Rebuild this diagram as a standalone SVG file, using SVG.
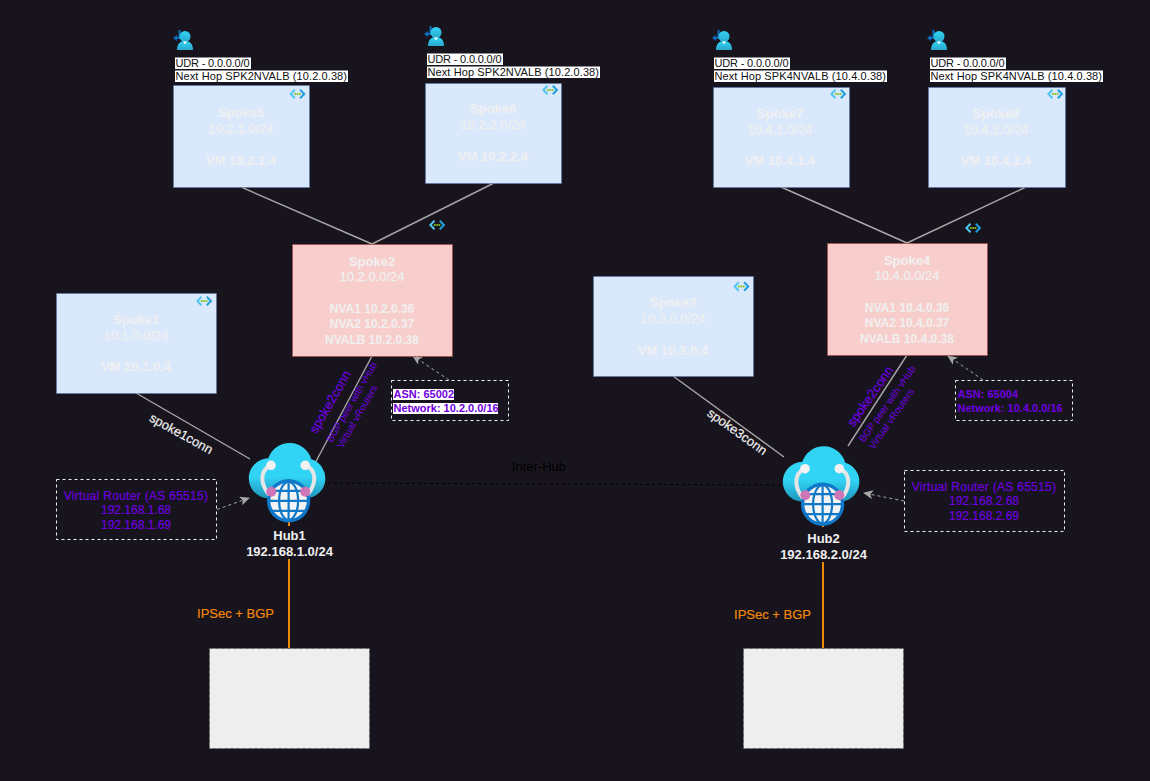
<svg xmlns="http://www.w3.org/2000/svg" width="1150" height="781" viewBox="0 0 1150 781">
<style>
text{font-family:"Liberation Sans",Arial,sans-serif;}
.nt{font-size:13px;font-weight:700;fill:#f0f0f0;text-anchor:middle;}
.ns{font-size:12px;font-weight:700;fill:#f0f0f0;text-anchor:middle;}
.nr{font-size:13px;font-weight:400;fill:#f0f0f0;stroke:#f0f0f0;stroke-width:.25px;text-anchor:middle;}
.blue{fill:#dae8fc;stroke:#5f7ba6;stroke-width:1;stroke-dasharray:3 1;}
.red{fill:#f8cecc;stroke:#a84c49;stroke-width:1;stroke-dasharray:3 1;}
.gray{fill:#eeeeee;stroke:#666666;stroke-width:1;stroke-dasharray:3 3;}
.conn{stroke:#a8a6a6;stroke-width:1.4;fill:none;}
.orange{stroke:#f08705;stroke-width:2;fill:none;}
.dash{stroke:#a8a8a8;stroke-width:1;stroke-dasharray:3 3;fill:none;}
.box{fill:none;stroke:#f0f0f0;stroke-width:1;stroke-dasharray:3 3;}
.pur{fill:#7000e0;font-size:12px;font-weight:400;text-anchor:middle;stroke:#7000e0;stroke-width:.15px;}
.vr{letter-spacing:.3px;}
.purb{fill:#7000e0;font-size:11px;font-weight:700;}
.udr{font-size:11px;fill:#111;}
.hl{fill:#ffffff;}
.lab{font-size:13px;text-anchor:middle;stroke-width:.2px;}
.bgp{font-size:10px;fill:#7000e0;}
.ip{font-size:13px;fill:#f08705;stroke:#f08705;stroke-width:.2px;text-anchor:middle;}
</style>
<defs>
<marker id="ah" markerWidth="11" markerHeight="10" refX="9" refY="4.500" orient="auto" markerUnits="userSpaceOnUse"><path d="M0,0 L10,4.500 L0,9 L2.500,4.500 Z" fill="#a8a8a8"/></marker>
<linearGradient id="cl" gradientUnits="userSpaceOnUse" x1="0" y1="0" x2="0" y2="55"><stop offset="0" stop-color="#32d4f5"/><stop offset="0.6" stop-color="#32d4f5"/><stop offset="1" stop-color="#1f94bb"/></linearGradient>
<linearGradient id="pg" x1="0" y1="0" x2="0" y2="1"><stop offset="0" stop-color="#32d4f5"/><stop offset="1" stop-color="#2aa8cc"/></linearGradient>
<g id="vnet">
<path d="M4.800,0 L0,5 L4.800,10 L6.200,8.600 L2.800,5 L6.200,1.400 Z" fill="#50c7f2"/>
<path d="M11.500,0 L16.300,5 L11.500,10 L10.100,8.600 L13.500,5 L10.100,1.400 Z" fill="#1f9fe0"/>
<circle cx="5.800" cy="5" r="1.100" fill="#86c226"/><circle cx="8.150" cy="5" r="1.100" fill="#86c226"/><circle cx="10.500" cy="5" r="1.100" fill="#86c226"/>
</g>
<g id="user">
<path d="M5.500,0 V8 H1" fill="none" stroke="#0f6cbd" stroke-width="2"/><path d="M-1,8 L3,5 V11 Z" fill="#0f6cbd"/>
<circle cx="11" cy="6.500" r="5.500" fill="url(#pg)"/>
<path d="M3,20 C3,14 6,11 11,11 C16,11 19,14 19,20 Z" fill="url(#pg)"/>
<path d="M9,11.500 L11,14.500 L13,11.500 Z" fill="#ffffff"/>
</g>
<g id="hubicon">
<path d="M20,55 A20,20 0 0 1 19,15 A22.500,22.500 0 0 1 62,16 A20,20 0 0 1 58,55 Z" fill="url(#cl)"/>
<path d="M21.700,22 C12,26 9,38 20,52" fill="none" stroke="#e6e6e6" stroke-width="4"/>
<path d="M56,22 C66,26 69,38 58,52" fill="none" stroke="#e6e6e6" stroke-width="4"/>
<circle cx="21.700" cy="22" r="4.800" fill="#f2f2f2"/><circle cx="56" cy="22" r="4.800" fill="#f2f2f2"/>
<circle cx="39.300" cy="57.500" r="21.700" fill="#0f78c8"/>
<circle cx="39.300" cy="57.500" r="18.300" fill="#f4f4f4"/>
<g fill="none" stroke="#0f78c8" stroke-width="2.200"><ellipse cx="39.300" cy="57.500" rx="9.500" ry="19"/><path d="M39.300,38 V77 M19,57.500 H60 M22,47.500 H57 M22,67.500 H57"/></g>
<circle cx="22" cy="48.500" r="5" fill="#cf76b8"/><circle cx="56" cy="48.500" r="5" fill="#cf76b8"/>
</g>
</defs>
<rect id="bg" x="0" y="0" width="1150" height="781" fill="#18141d"/>

<g id="connectors">
<path class="conn" d="M241,187 L372,244"/>
<path class="conn" d="M494,183 L372,244"/>
<path class="conn" d="M781,187 L907,243"/>
<path class="conn" d="M1026,187 L907,243"/>
<path class="conn" d="M136,393 L250,459"/>
<path class="conn" d="M372,356 L313,467"/>
<path class="conn" d="M673,376 L784,457"/>
<path class="conn" d="M907,355 L848,446"/>
<path class="orange" d="M289,518 V526"/>
<path class="orange" d="M289,559 V648"/>
<path class="orange" d="M823,521 V527"/>
<path class="orange" d="M823,562 V648"/>
<path d="M328,483 L782,485" fill="none" stroke="#000" stroke-width="1" stroke-dasharray="3 3"/>
<path class="dash" marker-end="url(#ah)" d="M217,509.500 L249,498"/>
<path class="dash" marker-end="url(#ah)" d="M904,501 L864,493"/>
<path class="dash" marker-end="url(#ah)" d="M449,380 L413,356"/>
<path class="dash" marker-end="url(#ah)" d="M983,380 L948,356"/>
</g>

<g id="spoke5"><rect class="blue" x="173.500" y="85.500" width="136" height="102"/><use href="#vnet" x="289.300" y="89"/>
<text class="nt" x="241" y="116.500">Spoke5</text><text class="nr" x="241" y="132.500">10.2.1.0/24</text><text class="nt" x="241" y="164.500">VM 10.2.1.4</text></g>
<g id="spoke6"><rect class="blue" x="425.500" y="83.500" width="136" height="100"/><use href="#vnet" x="542" y="85"/>
<text class="nt" x="493" y="113">Spoke6</text><text class="nr" x="493" y="129">10.2.2.0/24</text><text class="nt" x="493" y="161">VM 10.2.2.4</text></g>
<g id="spoke7"><rect class="blue" x="713.500" y="87.500" width="136" height="100"/><use href="#vnet" x="830" y="89"/>
<text class="nt" x="780" y="118">Spoke7</text><text class="nr" x="780" y="134">10.4.1.0/24</text><text class="nt" x="780" y="165">VM 10.4.1.4</text></g>
<g id="spoke8"><rect class="blue" x="928.500" y="87.500" width="137" height="100"/><use href="#vnet" x="1047" y="89"/>
<text class="nt" x="996" y="118">Spoke8</text><text class="nr" x="996" y="134">10.4.2.0/24</text><text class="nt" x="996" y="165">VM 10.4.2.4</text></g>

<g id="spoke2"><rect class="red" x="292.500" y="244.500" width="160" height="112"/><use href="#vnet" x="429" y="220"/>
<text class="nt" x="372" y="265.500">Spoke2</text><text class="nr" x="372" y="281">10.2.0.0/24</text><text class="ns" x="372" y="313">NVA1 10.2.0.36</text><text class="ns" x="372" y="328">NVA2 10.2.0.37</text><text class="ns" x="372" y="344">NVALB 10.2.0.38</text></g>
<g id="spoke4"><rect class="red" x="827.500" y="243.500" width="160" height="112"/><use href="#vnet" x="965" y="223"/>
<text class="nt" x="907" y="265">Spoke4</text><text class="nr" x="907" y="280">10.4.0.0/24</text><text class="ns" x="907" y="312">NVA1 10.4.0.36</text><text class="ns" x="907" y="327">NVA2 10.4.0.37</text><text class="ns" x="907" y="343">NVALB 10.4.0.38</text></g>
<g id="spoke1"><rect class="blue" x="56.500" y="293.500" width="160" height="100"/><use href="#vnet" x="196" y="296"/>
<text class="nt" x="136" y="324">Spoke1</text><text class="nr" x="136" y="340">10.1.0.0/24</text><text class="nt" x="136" y="371">VM 10.1.0.4</text></g>
<g id="spoke3"><rect class="blue" x="593.500" y="276.500" width="160" height="100"/><use href="#vnet" x="733.300" y="281.500"/>
<text class="nt" x="673" y="307">Spoke3</text><text class="nr" x="673" y="323">10.3.0.0/24</text><text class="nt" x="673" y="354.500">VM 10.3.0.4</text></g>

<g id="branch1"><rect class="gray" x="209.500" y="648.500" width="160" height="100"/>
<text class="nt" x="289" y="679">Branch 1</text><text class="nr" x="289" y="695">10.100.0.0/16</text><text class="nt" x="289" y="726">VM 10.100.0.4</text></g>
<g id="branch2"><rect class="gray" x="743.500" y="648.500" width="160" height="100"/>
<text class="nt" x="823" y="679">Branch 2</text><text class="nr" x="823" y="695">10.100.0.0/16</text><text class="nt" x="823" y="726">VM 10.200.0.4</text></g>

<g id="udr5"><use href="#user" x="174" y="30"/><rect class="hl" x="175" y="57.500" width="76" height="11.500"/><rect class="hl" x="175" y="70.500" width="173" height="11.500"/><text class="udr" x="175.500" y="66.500" textLength="74">UDR - 0.0.0.0/0</text><text class="udr" x="175.500" y="80" textLength="171.500">Next Hop SPK2NVALB (10.2.0.38)</text></g>
<g id="udr6"><use href="#user" x="425" y="26"/><rect class="hl" x="427" y="53.500" width="76" height="11.500"/><rect class="hl" x="427" y="66.500" width="173" height="11.500"/><text class="udr" x="427.500" y="62.500" textLength="74">UDR - 0.0.0.0/0</text><text class="udr" x="427.500" y="76" textLength="171.500">Next Hop SPK2NVALB (10.2.0.38)</text></g>
<g id="udr7"><use href="#user" x="713" y="30"/><rect class="hl" x="714" y="57.500" width="76" height="11.500"/><rect class="hl" x="714" y="70.500" width="173" height="11.500"/><text class="udr" x="714.500" y="66.500" textLength="74">UDR - 0.0.0.0/0</text><text class="udr" x="714.500" y="80" textLength="171.500">Next Hop SPK4NVALB (10.4.0.38)</text></g>
<g id="udr8"><use href="#user" x="928" y="30"/><rect class="hl" x="930" y="57.500" width="76" height="11.500"/><rect class="hl" x="930" y="70.500" width="173" height="11.500"/><text class="udr" x="930.500" y="66.500" textLength="74">UDR - 0.0.0.0/0</text><text class="udr" x="930.500" y="80" textLength="171.500">Next Hop SPK4NVALB (10.4.0.38)</text></g>

<g id="hub1"><use href="#hubicon" x="249.300" y="443.300"/><text class="nt" x="289.500" y="539.500">Hub1</text><text class="nt" x="289.500" y="555.500">192.168.1.0/24</text></g>
<g id="hub2"><use href="#hubicon" x="783.300" y="446.700"/><text class="nt" x="823.500" y="542.500">Hub2</text><text class="nt" x="823.500" y="559">192.168.2.0/24</text></g>

<g id="labels">
<text class="lab" transform="translate(181,434) rotate(29)" y="4" fill="#f0f0f0" stroke="#f0f0f0">spoke1conn</text>
<text class="lab" transform="translate(737,432) rotate(35.500)" y="4" fill="#f0f0f0" stroke="#f0f0f0">spoke3conn</text>
<text class="lab" transform="translate(330.500,402) rotate(-60)" y="4" fill="#7000e0" stroke="#7000e0">spoke2conn</text>
<text class="lab" transform="translate(870.500,396.500) rotate(-55)" y="4" fill="#7000e0" stroke="#7000e0">spoke2conn</text>
<text class="bgp" transform="translate(332,443) rotate(-60)"><tspan x="0" y="0">BGP peer with vHub</tspan><tspan x="0" y="12">Virtual vRouters</tspan></text>
<text class="bgp" transform="translate(864,443) rotate(-55)"><tspan x="0" y="0">BGP peer with vHub</tspan><tspan x="0" y="12">Virtual vRouters</tspan></text>
<text x="539" y="471" font-size="13" fill="#000" text-anchor="middle">Inter-Hub</text>
<text class="ip" x="235.500" y="618">IPSec + BGP</text>
<text class="ip" x="772.500" y="619">IPSec + BGP</text>
</g>

<g id="note-vr1"><rect class="box" x="56.500" y="479.500" width="160" height="60"/><text class="pur vr" x="136" y="499.500">Virtual Router (AS 65515)</text><text class="pur" x="136" y="514">192.168.1.68</text><text class="pur" x="136" y="529">192.168.1.69</text></g>
<g id="note-vr2"><rect class="box" x="904.500" y="470.500" width="160" height="61"/><text class="pur vr" x="984" y="491">Virtual Router (AS 65515)</text><text class="pur" x="984" y="505">192.168.2.68</text><text class="pur" x="984" y="520">192.168.2.69</text></g>
<g id="note-asn2"><rect class="box" x="391.500" y="380.500" width="117" height="40"/><rect class="hl" x="393" y="389" width="61" height="11"/><rect class="hl" x="393" y="403" width="105" height="11"/><text class="purb" x="393.500" y="398">ASN: 65002</text><text class="purb" x="393.500" y="412">Network: 10.2.0.0/16</text></g>
<g id="note-asn4"><rect class="box" x="955.500" y="380.500" width="117" height="40"/><text class="purb" x="957.500" y="398">ASN: 65004</text><text class="purb" x="957.500" y="412">Network: 10.4.0.0/16</text></g>
</svg>
